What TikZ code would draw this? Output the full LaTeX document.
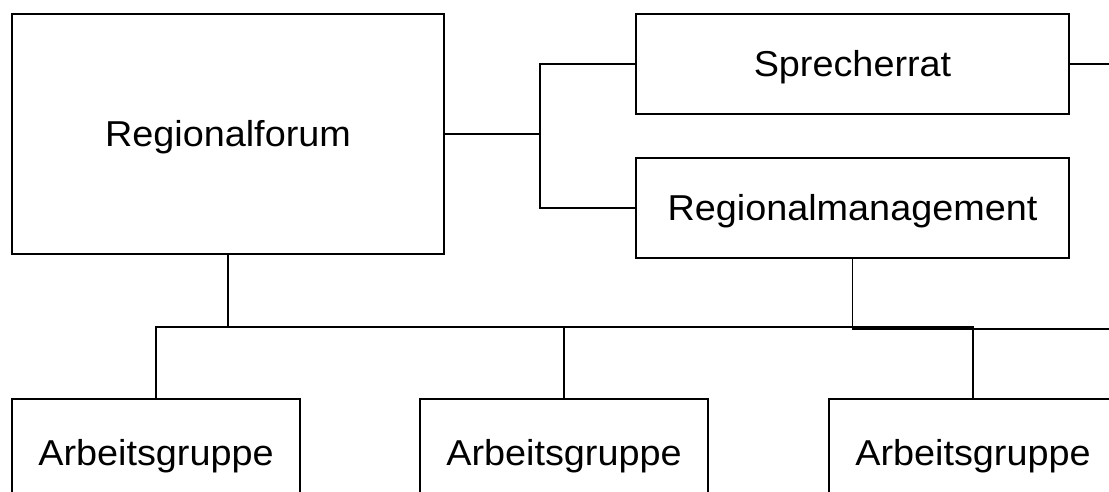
\documentclass[tikz,border=0pt]{standalone}
\usepackage{fontspec}
\setmainfont[FakeStretch=1.05]{Liberation Sans}
\begin{document}
\begin{tikzpicture}[x=1pt,y=-1pt,
  box/.style={draw=black, line width=1.4pt, fill=white, inner sep=0pt,
    font=\fontsize{36}{43}\selectfont, text height=25pt, text depth=0pt},
  conn/.style={draw=black, line width=1.4pt}]
\fill[white] (0,0) rectangle (1109,491);
\useasboundingbox (0,0) rectangle (1109,491);
\clip (0,0) rectangle (1109,491);
% nodes
\node[box, minimum width=432pt, minimum height=240pt] (rf) at (228,134) {Regionalforum};
\node[box, minimum width=433pt, minimum height=100pt] (sr) at (852.5,64) {Sprecherrat};
\node[box, minimum width=433pt, minimum height=100pt] (rm) at (852.5,208) {Regionalmanagement};
\node[box, minimum width=288pt, minimum height=108pt] (ag1) at (156,453) {Arbeitsgruppe};
\node[box, minimum width=288pt, minimum height=108pt] (ag2) at (564,453) {Arbeitsgruppe};
\node[box, minimum width=288pt, minimum height=108pt] (ag3) at (973,453) {Arbeitsgruppe};
% coordinates
\coordinate (j1) at (540,134);
\coordinate (srout) at (1109,64);
\coordinate (b0) at (228,327);
\coordinate (bl) at (156,327);
\coordinate (bm) at (564,327);
\coordinate (br) at (973,327);
\coordinate (r0) at (852.5,329);
\coordinate (rout) at (1109,329);
% connectors
\draw[conn] (rf.east) -- (j1);
\draw[conn] (sr.west) -| (j1) |- (rm.west);
\draw[conn] (sr.east) -- (srout);
\draw[conn] (rf.south) -- (b0);
\draw[conn] (ag1.north) -- (bl) -- (br) -- (ag3.north);
\draw[conn] (bm) -- (ag2.north);
\draw[conn] (rm.south) -- (r0) -- (rout);
\end{tikzpicture}
\end{document}
